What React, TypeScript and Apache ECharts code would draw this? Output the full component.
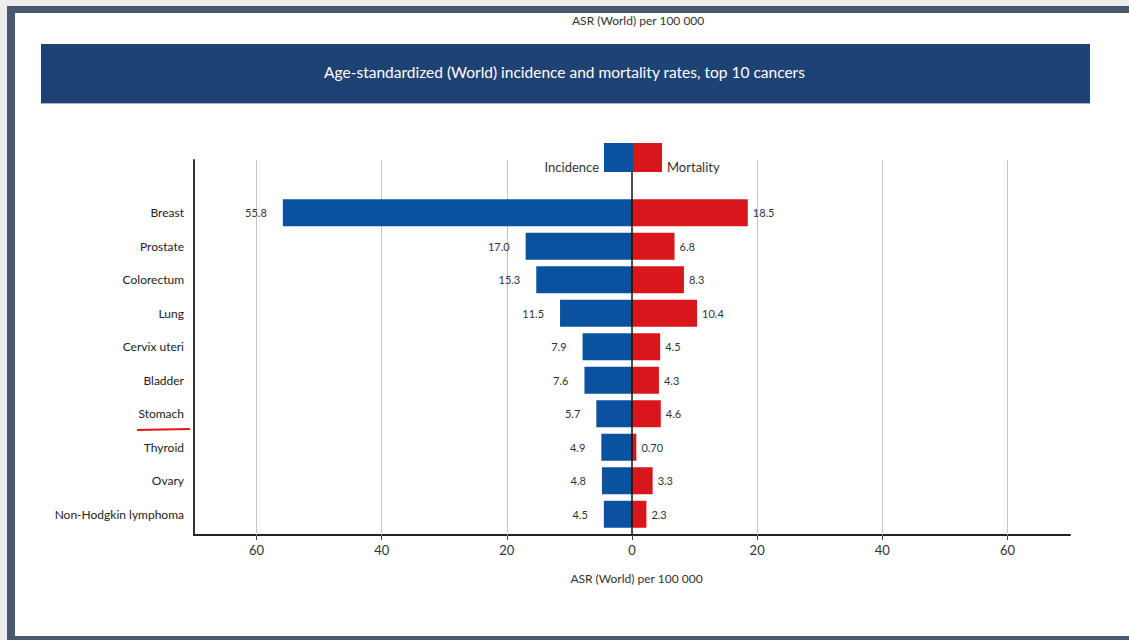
import React, { useEffect, useRef } from "react";
import * as echarts from "echarts";

const categories = [
  "Breast",
  "Prostate",
  "Colorectum",
  "Lung",
  "Cervix uteri",
  "Bladder",
  "Stomach",
  "Thyroid",
  "Ovary",
  "Non-Hodgkin lymphoma",
];
const incidence = [55.8, 17.0, 15.3, 11.5, 7.9, 7.6, 5.7, 4.9, 4.8, 4.5];
const mortality = [18.5, 6.8, 8.3, 10.4, 4.5, 4.3, 4.6, 0.7, 3.3, 2.3];
const tickValues = [-60, -40, -20, 0, 20, 40, 60];
const gridValues = [-60, -40, -20, 20, 40, 60];
const axisMin = -70;
const axisMax = 70;
const axisName = "ASR (World) per 100 000";
const titleText =
  "Age-standardized (World) incidence and mortality rates, top 10 cancers";

const FONT = "Lato, 'Liberation Sans', sans-serif";
const BLUE = "#0a52a0";
const RED = "#d8161b";

const fmt = (v: number) => (v >= 1 ? v.toFixed(1) : v.toFixed(2));

const legendText = {
  fontSize: 13,
  color: "#333",
  fontFamily: FONT,
  rich: {
    a: {
      fontSize: 13,
      color: "#333",
      fontFamily: FONT,
      padding: [18, 0, 0, 0],
    },
  },
};

export default function App() {
  const ref = useRef<HTMLDivElement>(null);

  useEffect(() => {
    if (!ref.current) return;
    const chart = echarts.init(ref.current, null, { renderer: "svg" });
    const option: any = {
      animation: false,
      backgroundColor: "transparent",
      textStyle: { fontFamily: FONT },
      title: [
        {
          text: axisName,
          left: 572,
          top: 14,
          padding: 0,
          textStyle: {
            fontSize: 12,
            fontWeight: "normal",
            color: "#333",
            fontFamily: FONT,
          },
        },
        {
          text: titleText,
          left: "center",
          top: 64,
          padding: 0,
          textStyle: {
            fontSize: 15.5,
            fontWeight: "normal",
            color: "#ffffff",
            fontFamily: FONT,
          },
          z: 10,
        },
      ],
      graphic: [
        {
          type: "rect",
          shape: { x: 41, y: 44, width: 1049, height: 59 },
          style: { fill: "#1f4275" },
          z: 1,
        },
        {
          type: "line",
          shape: { x1: 41, y1: 103.5, x2: 1090, y2: 103.5 },
          style: { stroke: "#a8b6cc", lineWidth: 1 },
          z: 1,
        },
        {
          type: "line",
          shape: { x1: 137, y1: 430, x2: 190, y2: 429 },
          style: { stroke: "#e8141c", lineWidth: 2 },
          z: 20,
        },
      ],
      legend: [
        {
          data: ["Incidence"],
          align: "right",
          right: 496,
          top: 143,
          padding: 0,
          itemWidth: 29,
          itemHeight: 29,
          itemGap: 0,
          icon: "rect",
          selectedMode: false,
          z: 10,
          formatter: "{a|{name}}",
          textStyle: legendText,
        },
        {
          data: ["Mortality"],
          align: "left",
          left: 633,
          top: 143,
          padding: 0,
          itemWidth: 29,
          itemHeight: 29,
          itemGap: 0,
          icon: "rect",
          selectedMode: false,
          z: 10,
          formatter: "{a|{name}}",
          textStyle: legendText,
        },
      ],
      grid: [
        { left: 194, right: 59, top: 160, bottom: 105, containLabel: false },
        { left: 194, right: 59, top: 196, bottom: 109, containLabel: false },
      ],
      xAxis: [
        {
          type: "value",
          gridIndex: 0,
          min: axisMin,
          max: axisMax,
          axisLine: {
            show: true,
            onZero: false,
            lineStyle: { color: "#222", width: 2 },
          },
          axisTick: {
            show: true,
            customValues: tickValues,
            length: 5,
            lineStyle: { color: "#444" },
          },
          axisLabel: {
            customValues: tickValues,
            formatter: (v: number) => String(Math.abs(v)),
            fontSize: 13,
            margin: 8,
            color: "#333",
            fontFamily: FONT,
          },
          splitLine: { show: false },
          name: axisName,
          nameLocation: "middle",
          nameGap: 37,
          nameTextStyle: {
            fontSize: 12,
            color: "#333",
            fontFamily: FONT,
            padding: [0, 0, 0, 9],
          },
        },
        {
          type: "value",
          gridIndex: 1,
          min: axisMin,
          max: axisMax,
          show: false,
        },
      ],
      yAxis: [
        {
          type: "value",
          gridIndex: 0,
          min: 0,
          max: 1,
          axisLine: {
            show: true,
            onZero: false,
            lineStyle: { color: "#333", width: 2 },
          },
          axisLabel: { show: false },
          axisTick: { show: false },
          splitLine: { show: false },
        },
        {
          type: "category",
          gridIndex: 1,
          inverse: true,
          data: categories,
          axisLine: { show: false },
          axisTick: { show: false },
          splitLine: { show: false },
          axisLabel: {
            margin: 10,
            fontSize: 12,
            color: "#222",
            fontFamily: FONT,
          },
        },
      ],
      series: [
        {
          name: "grid",
          type: "line",
          xAxisIndex: 0,
          yAxisIndex: 0,
          data: [],
          z: 1,
          markLine: {
            silent: true,
            symbol: "none",
            z: 1,
            label: { show: false },
            lineStyle: { color: "#c4c4c4", width: 1, type: "solid" },
            data: gridValues.map((v) => ({ xAxis: v })),
          },
        },
        {
          name: "Incidence",
          type: "bar",
          xAxisIndex: 1,
          yAxisIndex: 1,
          data: incidence.map((v) => -v),
          barWidth: 27,
          barGap: "-100%",
          z: 2,
          itemStyle: { color: BLUE },
          label: {
            show: true,
            position: "left",
            distance: 16,
            formatter: (p: any) => fmt(Math.abs(p.value)),
            fontSize: 11,
            color: "#333",
            fontFamily: FONT,
          },
        },
        {
          name: "Mortality",
          type: "bar",
          xAxisIndex: 1,
          yAxisIndex: 1,
          data: mortality,
          barWidth: 27,
          barGap: "-100%",
          z: 2,
          itemStyle: { color: RED },
          label: {
            show: true,
            position: "right",
            distance: 5,
            formatter: (p: any) => fmt(Math.abs(p.value)),
            fontSize: 11,
            color: "#333",
            fontFamily: FONT,
          },
        },
        {
          name: "zero",
          type: "line",
          xAxisIndex: 0,
          yAxisIndex: 0,
          data: [],
          z: 3,
          markLine: {
            silent: true,
            symbol: "none",
            z: 3,
            label: { show: false },
            lineStyle: { color: "#111", width: 1.5, type: "solid" },
            data: [{ xAxis: 0 }],
          },
        },
      ],
    };
    chart.setOption(option);
    return () => chart.dispose();
  }, []);

  return (
    <div
      style={{
        position: "fixed",
        left: 0,
        top: 0,
        width: 1129,
        height: 640,
        background: "#ececec",
        overflow: "hidden",
      }}
    >
      <div
        style={{
          position: "absolute",
          left: 7,
          top: 6,
          width: 1122,
          height: 634,
          background: "#4a586e",
        }}
      />
      <div
        style={{
          position: "absolute",
          left: 15,
          top: 13,
          width: 1114,
          height: 623,
          background: "#ffffff",
        }}
      />
      <div
        ref={ref}
        style={{ position: "absolute", left: 0, top: 0, width: 1129, height: 640 }}
      />
    </div>
  );
}
